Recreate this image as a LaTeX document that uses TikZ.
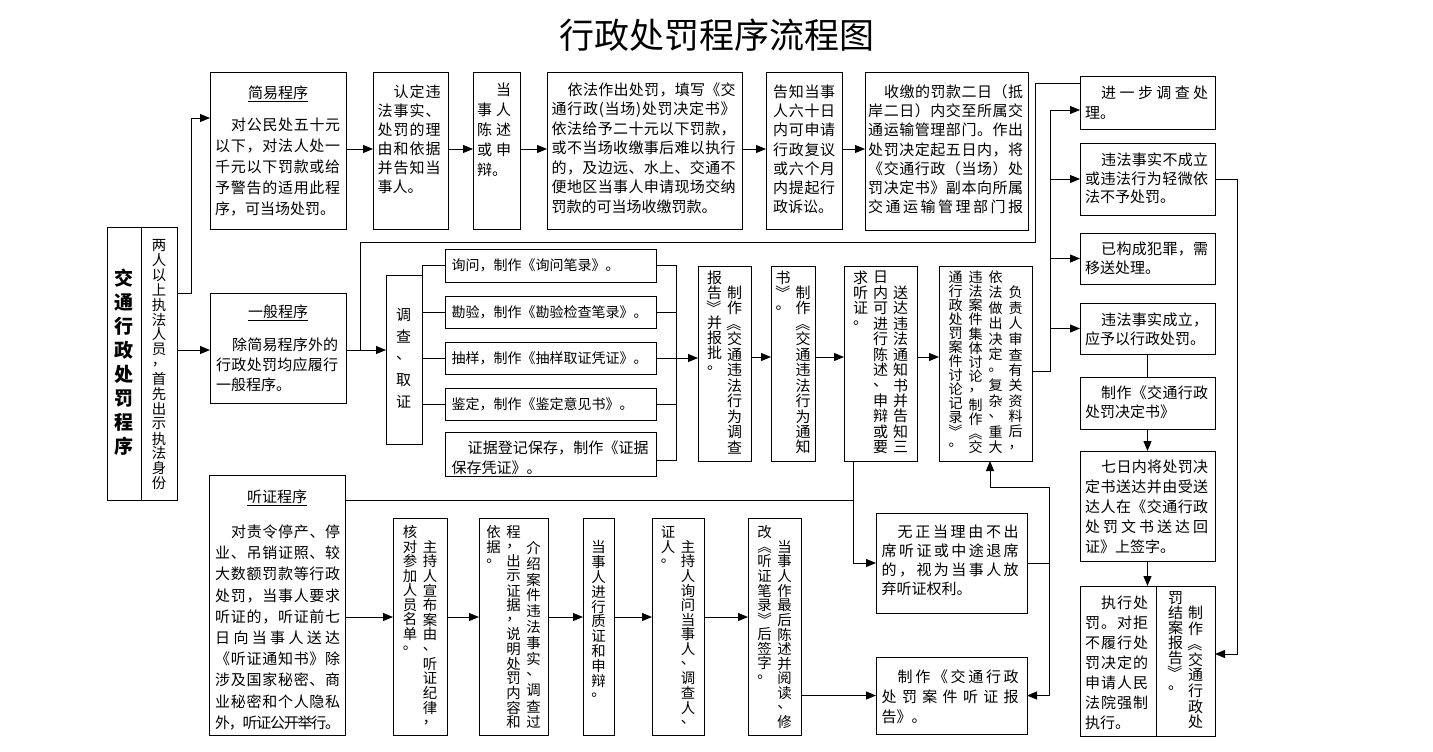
\documentclass[tikz,border=0pt]{standalone}
\usepackage{fontspec}
\setmainfont{Noto Sans CJK SC}
\usepackage{graphicx}
\usetikzlibrary{arrows.meta}
\makeatletter
\newdimen\indw \indw=16pt
\def\jl#1{\leavevmode\hbox to\linewidth{\jl@#1\@nil}}
\def\ijl#1{\leavevmode\hbox to\linewidth{\hskip\indw\jl@#1\@nil}}
\def\jl@#1#2\@nil{#1\ifx\relax#2\relax\else\hskip0pt plus1fill minus2pt\jl@#2\@nil\fi}
\newdimen\cellh \cellh=14pt
\newdimen\cellw \cellw=16pt
\def\vcell#1{\hbox to\cellw{\hss\vbox to\cellh{\vss\hbox{#1}\vss}\hss}}
\def\VJ#1#2{\hbox to 20pt{\hss\vbox to #1{\offinterlineskip\vj@#2\@nil}\hss}}
\def\vj@#1#2\@nil{\vcell{#1}\ifx\relax#2\relax\else\vskip0pt plus1fill minus3pt\vj@#2\@nil\fi}
\def\VN#1#2#3{\hbox to 20pt{\hss\vbox to #1{\offinterlineskip\cellh=#2\relax\vn@#3\@nil\vfill}\hss}}
\def\vn@#1#2\@nil{\vcell{#1}\ifx\relax#2\relax\else\vn@#2\@nil\fi}
\def\vsk{}
\makeatother
\newcommand\vlb{\rotatebox[origin=c]{-90}{《}}
\newcommand\vrb{\rotatebox[origin=c]{-90}{》}}
\tikzset{
  bx/.style={draw, line width=1pt, inner sep=0pt, outer sep=0pt},
  ln/.style={line width=1pt},
  arr/.style={line width=1pt, -{Triangle[length=10pt,width=8pt]}},
  tx/.style={inner sep=0pt, anchor=base west},
  vt/.style={inner sep=0pt, anchor=north, font=\fontsize{15}{15}\selectfont},
  vts/.style={inner sep=0pt, anchor=north, font=\fontsize{14.4}{14.4}\selectfont},
  hd/.style={inner sep=0pt, anchor=base, font=\fontsize{15}{15}\selectfont},
}
\newcommand\Bx[5]{\node[bx, minimum width={(#4)-(#2)}, minimum height={(#5)-(#3)}] (#1) at ({((#2)+(#4))/2},{((#3)+(#5))/2}) {};}
\newcommand\Tx[6]{\node[tx, text width=#4pt, font=\fontsize{15}{#5pt}\selectfont] (#1) at (#2,#3) {#6};}
\newcommand\Vt[4]{\node[vt] (#1) at (#2,#3) {\hbox{#4}};}
\newcommand\Vs[4]{\node[vts] (#1) at (#2,#3) {\hbox{#4}};}
\begin{document}
\begin{tikzpicture}[x=1pt,y=-1pt]
\fill[white] (0,0) rectangle (1433,752);
\useasboundingbox (0,0) rectangle (1433,752);
\node[font=\fontsize{35}{35}\selectfont, inner sep=0pt] (title) at (717,35) {行政处罚程序流程图};
% boxes
\Bx{left1}{107}{227}{141}{500}
\Bx{left2}{141}{227}{177}{500}
\Bx{jianyi}{210}{73}{346}{229}
\Bx{rending}{373}{73}{448}{229}
\Bx{chenshu}{473}{73}{520}{229}
\Bx{yifa}{547}{73}{742}{229}
\Bx{gaozhi}{766}{73}{842}{229}
\Bx{shoujiao}{865}{73}{1028}{230}
\Bx{jinyibu}{1080}{77}{1215}{129}
\Bx{buchengli}{1080}{143}{1215}{215}
\Bx{fanzui}{1080}{233}{1215}{284}
\Bx{chengli}{1080}{303}{1215}{354}
\Bx{jueding}{1080}{377}{1215}{429}
\Bx{qiri}{1080}{451}{1215}{561}
\Bx{zhixing}{1080}{586}{1156}{736}
\Bx{jiean}{1156}{586}{1215}{736}
\Bx{yiban}{210}{293}{346}{403}
\Bx{diaocha}{386}{275}{422}{444}
\Bx{xunwen}{445}{249}{656}{282}
\Bx{kanyan}{445}{296}{656}{328}
\Bx{chouyang}{445}{342}{656}{374}
\Bx{jianding}{445}{388}{656}{420}
\Bx{zhengju}{445}{432}{656}{476}
\Bx{dcbg}{698}{266}{751}{461}
\Bx{tzs}{771}{266}{815}{461}
\Bx{songda}{844}{266}{917}{461}
\Bx{fuzeren}{939}{266}{1032}{461}
\Bx{tingzheng}{209}{475}{345}{735}
\Bx{zhuchi}{393}{518}{447}{735}
\Bx{jieshao}{479}{518}{548}{735}
\Bx{zhizheng}{583}{518}{614}{735}
\Bx{xwdsr}{652}{518}{704}{735}
\Bx{zuihou}{748}{518}{801}{735}
\Bx{wuzheng}{876}{513}{1027}{613}
\Bx{baogao}{876}{657}{1027}{734}
% vertical texts
\node[vt, font=\fontsize{19}{19}\selectfont\bfseries] (left1-t) at (124,268.5) {\cellh=19pt\relax\VJ{187pt}{交通行政处罚程序}};
\Vs{left2-t}{159}{238}{\VJ{252pt}{两人以上执法人员，首先出示执法身份}}
\Vt{diaocha-t}{403.5}{308}{\VJ{101pt}{调查、取证}}
\Vt{dcbg-t}{724.5}{270}{\VN{184pt}{15pt}{报告{\vrb}并报批。}\VJ{184pt}{{\vsk}制作{\vlb}交通违法行为调查}}
\Vt{tzs-t}{793}{270}{\VN{184pt}{15pt}{书{\vrb}。}\VJ{184pt}{{\vsk}制作{\vlb}交通违法行为通知}}
\Vt{songda-t}{880.5}{270}{\VN{184pt}{15pt}{求听证。}\VJ{184pt}{日内可进行陈述、申辩或要}\VJ{184pt}{{\vsk}送达违法通知书并告知三}}
\node[vt, font=\fontsize{14}{14}\selectfont] (fuzeren-t) at (985.5,270) {\hbox{\VN{184pt}{14pt}{通行政处罚案件讨论记录{\vrb}。}\VJ{184pt}{违法案件集体讨论，制作{\vlb}交}\VJ{184pt}{依法做出决定。复杂、重大}\VJ{184pt}{{\vsk}负责人审查有关资料后，}}};
\Vs{zhuchi-t}{420}{525}{\VN{204pt}{14.5pt}{核对参加人员名单。}\VJ{204pt}{{\vsk}主持人宣布案由、听证纪律，}}
\Vs{jieshao-t}{513.5}{525}{\VN{204pt}{14.5pt}{依据。}\VJ{204pt}{程，出示证据，说明处罚内容和}\VJ{204pt}{{\vsk}介绍案件违法事实、调查过}}
\Vs{zhizheng-t}{598.5}{525}{\VN{204pt}{14.8pt}{{\vsk}当事人进行质证和申辩。}}
\Vs{xwdsr-t}{678}{525}{\VN{204pt}{14.5pt}{证人。}\VJ{204pt}{{\vsk}主持人询问当事人、调查人、}}
\Vs{zuihou-t}{774.5}{525}{\VN{204pt}{14.5pt}{改{\vlb}听证笔录{\vrb}后签字。}\VJ{204pt}{{\vsk}当事人作最后陈述并阅读、修}}
\Vt{jiean-t}{1185.5}{590}{\VN{139pt}{15pt}{罚结案报告{\vrb}。}\VJ{139pt}{{\vsk}制作{\vlb}交通行政处}}
% horizontal texts
\node[hd] (jianyi-h) at (278,98.5) {\underline{简易程序}};
\Tx{jianyi-t}{215}{130.5}{125}{21}{\ijl{对公民处五十元}\par\jl{以下，对法人处一}\par\jl{千元以下罚款或给}\par\jl{予警告的适用此程}\par 序，可当场处罚。}
\Tx{rending-t}{377.5}{97.5}{63}{19}{\ijl{认定违}\par\jl{法事实、}\par\jl{处罚的理}\par\jl{由和依据}\par\jl{并告知当}\par 事人。}
\Tx{chenshu-t}{477}{95.5}{34}{20}{\leavevmode\hbox to\linewidth{\hfill 当}\par\jl{事人}\par\jl{陈述}\par\jl{或申}\par 辩。}
\Tx{yifa-t}{551.5}{95.5}{184}{19.5}{\ijl{依法作出处罚，填写《交}\par\jl{通行政(当场)处罚决定书》}\par\jl{依法给予二十元以下罚款，}\par\jl{或不当场收缴事后难以执行}\par\jl{的，及边远、水上、交通不}\par\jl{便地区当事人申请现场交纳}\par 罚款的可当场收缴罚款。}
\Tx{gaozhi-t}{773}{97.5}{62}{19.2}{\jl{告知当事}\par\jl{人六十日}\par\jl{内可申请}\par\jl{行政复议}\par\jl{或六个月}\par\jl{内提起行}\par 政诉讼。}
\Tx{shoujiao-t}{868}{97.5}{155}{19.2}{\ijl{收缴的罚款二日（抵}\par\jl{岸二日）内交至所属交}\par\jl{通运输管理部门。作出}\par\jl{处罚决定起五日内，将}\par\jl{《交通行政（当场）处}\par\jl{罚决定书》副本向所属}\par\jl{交通运输管理部门报}}
\Tx{jinyibu-t}{1085}{98.5}{123}{20}{\ijl{进一步调查处}\par 理。}
\Tx{buchengli-t}{1085}{165.5}{123}{18.7}{\ijl{违法事实不成立}\par\jl{或违法行为轻微依}\par 法不予处罚。}
\Tx{fanzui-t}{1085}{254.5}{123}{19}{\ijl{已构成犯罪，需}\par 移送处理。}
\Tx{chengli-t}{1085}{325.5}{123}{19}{\ijl{违法事实成立，}\par 应予以行政处罚。}
\Tx{jueding-t}{1085}{398.5}{123}{19}{\ijl{制作《交通行政}\par 处罚决定书》}
\Tx{qiri-t}{1085}{472.5}{123}{20}{\ijl{七日内将处罚决}\par\jl{定书送达并由受送}\par\jl{达人在《交通行政}\par\jl{处罚文书送达回}\par 证》上签字。}
\Tx{zhixing-t}{1085}{608.5}{63}{20}{\ijl{执行处}\par\jl{罚。对拒}\par\jl{不履行处}\par\jl{罚决定的}\par\jl{申请人民}\par\jl{法院强制}\par 执行。}
\node[hd] (yiban-h) at (278,317.5) {\underline{一般程序}};
\Tx{yiban-t}{216}{350.5}{122}{20}{\ijl{除简易程序外的}\par\jl{行政处罚均应履行}\par 一般程序。}
\node[tx, font=\fontsize{14}{14}\selectfont] (xunwen-t) at (451.5,270.5) {询问，制作《询问笔录》。};
\node[tx, font=\fontsize{14}{14}\selectfont] (kanyan-t) at (451.5,317) {勘验，制作《勘验检查笔录》。};
\node[tx, font=\fontsize{14}{14}\selectfont] (chouyang-t) at (451.5,363) {抽样，制作《抽样取证凭证》。};
\node[tx, font=\fontsize{14}{14}\selectfont] (jianding-t) at (451.5,409) {鉴定，制作《鉴定意见书》。};
\Tx{zhengju-t}{451.5}{453.5}{197}{20}{\ijl{证据登记保存，制作《证据}\par 保存凭证》。}
\node[hd] (tingzheng-h) at (277,502.5) {\underline{听证程序}};
\Tx{tingzheng-t}{215}{537.5}{125}{21.2}{\ijl{对责令停产、停}\par\jl{业、吊销证照、较}\par\jl{大数额罚款等行政}\par\jl{处罚，当事人要求}\par\jl{听证的，听证前七}\par\jl{日向当事人送达}\par\jl{《听证通知书》除}\par\jl{涉及国家秘密、商}\par\jl{业秘密和个人隐私}\par\jl{外，听证公开举行。}}
\Tx{wuzheng-t}{881.5}{537.5}{137}{19}{\ijl{无正当理由不出}\par\jl{席听证或中途退席}\par\jl{的，视为当事人放}\par 弃听证权利。}
\Tx{baogao-t}{881.5}{682.5}{137}{20}{\ijl{制作《交通行政}\par\jl{处罚案件听证报}\par 告》。}
% helper coordinates
\coordinate (h84) at (0,84);
\coordinate (h110) at (0,110);
\coordinate (h118) at (0,118);
\coordinate (h149) at (0,149);
\coordinate (h242) at (0,242);
\coordinate (h293) at (0,293);
\coordinate (h350) at (0,350);
\coordinate (h357) at (0,357);
\coordinate (h371) at (0,371);
\coordinate (h460) at (0,460);
\coordinate (h487) at (0,487);
\coordinate (h500) at (0,500);
\coordinate (h617) at (0,617);
\coordinate (h654) at (0,654);
\coordinate (v191) at (191,0);
\coordinate (v360) at (360,0);
\coordinate (v676) at (676,0);
\coordinate (v853) at (853,0);
\coordinate (v990) at (990,0);
\coordinate (v1035) at (1035,0);
\coordinate (v1049) at (1049,0);
\coordinate (v1050) at (1050,0);
\coordinate (v1237) at (1237,0);
% connectors
\draw[arr] (left2.east |- h293) -- (v191 |- h293) |- (jianyi.west |- h118);
\draw[arr] (left2.east |- h350) -- (yiban.west |- h350);
\foreach \a/\b in {jianyi/rending, rending/chenshu, chenshu/yifa, yifa/gaozhi, gaozhi/shoujiao}
  \draw[arr] (\a.east |- h149) -- (\b.west |- h149);
\draw[arr] (yiban.east |- h350) -- (diaocha.west |- h350);
\draw[ln] (v360 |- h350) |- (v1035 |- h242) |- (jinyibu.west |- h84);
\draw[ln] (diaocha.north east) |- (xunwen.west);
\foreach \b in {kanyan, chouyang, jianding}
  \draw[ln] (diaocha.east |- \b.west) -- (\b.west);
\draw[ln] (xunwen.east) -| (v676 |- h460) -- (zhengju.east |- h460);
\draw[ln] (kanyan.east) -- (kanyan.east -| v676);
\draw[ln] (jianding.east) -- (jianding.east -| v676);
\draw[arr] (chouyang.east) -- (chouyang.east -| dcbg.west);
\foreach \a/\b in {dcbg/tzs, tzs/songda, songda/fuzeren}
  \draw[arr] (\a.east |- h357) -- (\b.west |- h357);
\draw[ln] (fuzeren.east |- h371) -| (v1050 |- h110);
\draw[arr] (v1050 |- h110) -- (jinyibu.west |- h110);
\foreach \b in {buchengli, fanzui, chengli}
  \draw[arr] (v1050 |- \b.west) -- (\b.west);
\draw[ln] (chengli.south) -- (jueding.north);
\draw[arr] (jueding.south) -- (qiri.north);
\draw[arr] (qiri.south) -- (qiri.south |- zhixing.north);
\draw[arr] (buchengli.east) -- (v1237 |- buchengli.east) |- (jiean.east |- h654);
\draw[ln] (tingzheng.east |- h500) -- (v853 |- h500);
\draw[arr] (v853 |- songda.south) |- (wuzheng.west);
\foreach \a/\b in {tingzheng/zhuchi, zhuchi/jieshao, jieshao/zhizheng, zhizheng/xwdsr, xwdsr/zuihou}
  \draw[arr] (\a.east |- h617) -- (\b.west |- h617);
\draw[arr] (zuihou.east |- baogao.west) -- (baogao.west);
\draw[ln] (wuzheng.east) -- (wuzheng.east -| v1049);
\draw[arr] (v1049 |- h487) -| (v990 |- fuzeren.south);
\draw[arr] (v1049 |- h487) |- (baogao.east);
\end{tikzpicture}
\end{document}
